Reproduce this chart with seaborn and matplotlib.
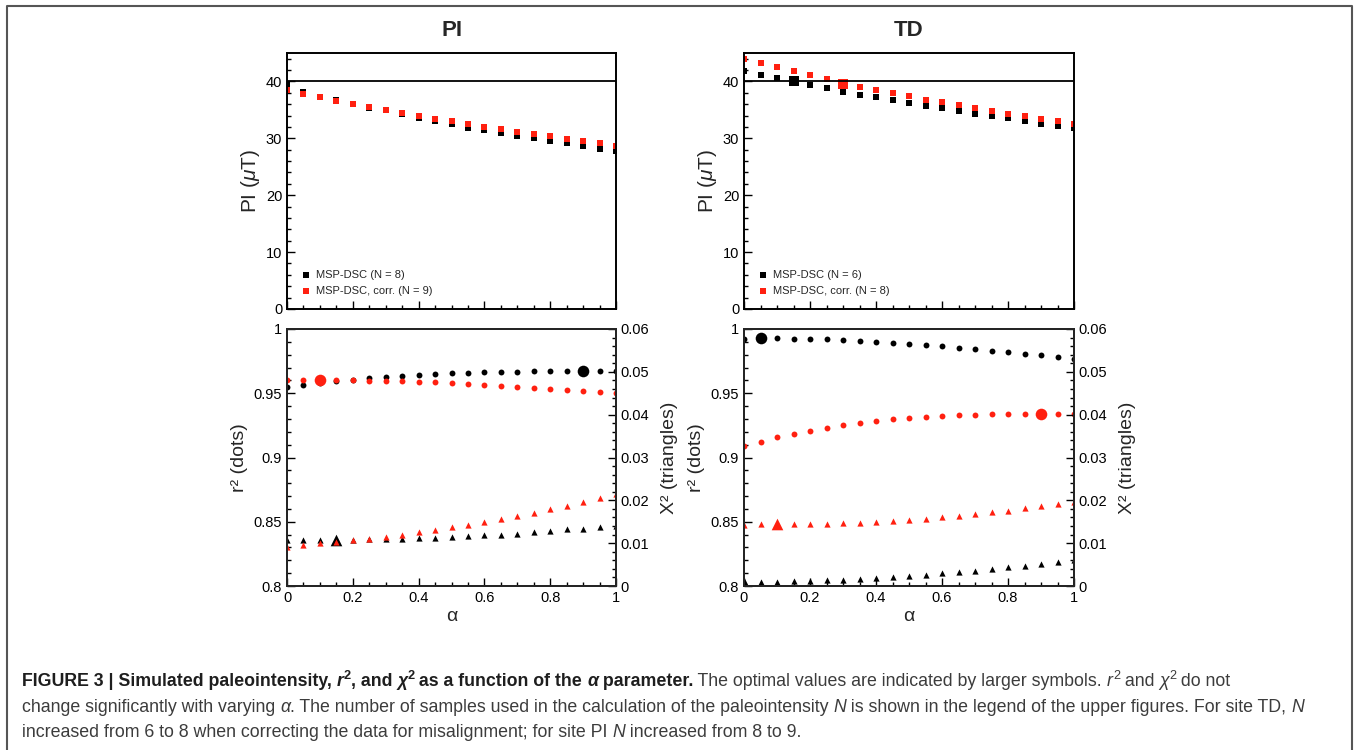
import matplotlib
matplotlib.use('Agg')
import pandas as pd
import matplotlib.pyplot as plt
import seaborn as sns
from matplotlib.ticker import MultipleLocator, FuncFormatter
from matplotlib.lines import Line2D

# data
alpha = [0.0, 0.05, 0.1, 0.15, 0.2, 0.25, 0.3, 0.35, 0.4, 0.45, 0.5,
         0.55, 0.6, 0.65, 0.7, 0.75, 0.8, 0.85, 0.9, 0.95, 1.0]

# PI (uT), site PI
pi_msp = [39.4, 38.2, 37.3, 36.7, 36.0, 35.4, 34.9, 34.2, 33.6, 33.0, 32.5,
          31.9, 31.4, 30.9, 30.4, 30.0, 29.5, 29.1, 28.7, 28.2, 27.8]
pi_corr = [38.5, 37.8, 37.2, 36.6, 36.0, 35.5, 34.9, 34.4, 33.9, 33.4, 33.0,
           32.5, 32.0, 31.6, 31.1, 30.7, 30.4, 29.9, 29.6, 29.2, 28.7]
# PI (uT), site TD
td_msp = [41.9, 41.2, 40.6, 40.0, 39.4, 38.8, 38.2, 37.6, 37.2, 36.7, 36.2,
          35.7, 35.3, 34.8, 34.3, 33.9, 33.5, 33.0, 32.6, 32.2, 31.8]
td_corr = [44.0, 43.2, 42.5, 41.8, 41.1, 40.4, 39.6, 39.1, 38.5, 37.9, 37.4,
           36.8, 36.3, 35.8, 35.3, 34.8, 34.3, 33.9, 33.4, 33.0, 32.5]

# r2 (dots) and chi2 (triangles), site PI
pi_r2_msp = [0.9546, 0.9562, 0.958, 0.9595, 0.9606, 0.9616, 0.9627, 0.9634, 0.9642, 0.965, 0.9655,
             0.966, 0.9663, 0.9665, 0.9668, 0.967, 0.967, 0.9673, 0.9676, 0.9673, 0.967]
pi_r2_corr = [0.9603, 0.9603, 0.9603, 0.9603, 0.9601, 0.9598, 0.9595, 0.9593, 0.959, 0.9585, 0.958,
              0.9572, 0.9564, 0.9556, 0.9549, 0.954, 0.9533, 0.9525, 0.9518, 0.951, 0.950]
pi_chi_msp = [0.0107, 0.0108, 0.0108, 0.0108, 0.0108, 0.0109, 0.0109, 0.0110, 0.0111, 0.0112, 0.0114,
              0.0116, 0.0118, 0.0120, 0.0122, 0.0125, 0.0129, 0.0132, 0.0134, 0.0138, 0.0140]
pi_chi_corr = [0.0090, 0.0095, 0.0100, 0.0103, 0.0107, 0.0110, 0.0114, 0.0120, 0.0125, 0.0131, 0.0137,
               0.0142, 0.0149, 0.0156, 0.0163, 0.0171, 0.0179, 0.0187, 0.0195, 0.0205, 0.0214]

# r2 (dots) and chi2 (triangles), site TD
td_r2_msp = [0.9925, 0.9927, 0.9927, 0.9925, 0.9922, 0.992, 0.9914, 0.9909, 0.9901, 0.9894, 0.9886,
             0.9878, 0.9868, 0.9855, 0.9844, 0.9831, 0.9821, 0.9808, 0.9795, 0.9782, 0.9766]
td_r2_corr = [0.909, 0.9121, 0.9157, 0.9183, 0.9209, 0.923, 0.925, 0.9268, 0.9284, 0.9297, 0.9307,
              0.9318, 0.9323, 0.9328, 0.9333, 0.9336, 0.9339, 0.9341, 0.9341, 0.9341, 0.9339]
td_chi_msp = [0.0006, 0.0010, 0.0010, 0.0011, 0.0011, 0.0013, 0.0015, 0.0017, 0.0019, 0.0021, 0.0023,
              0.0026, 0.0030, 0.0033, 0.0036, 0.0040, 0.0044, 0.0047, 0.0051, 0.0055, 0.0060]
td_chi_corr = [0.0142, 0.0144, 0.0144, 0.0144, 0.0144, 0.0145, 0.0146, 0.0148, 0.0149, 0.0151, 0.0153,
               0.0156, 0.0160, 0.0163, 0.0167, 0.0172, 0.0176, 0.0181, 0.0187, 0.0192, 0.0197]

# optimal alpha (larger symbols), None = not shown
pi_best = {'msp': None, 'corr': None, 'r2_msp': 0.9, 'r2_corr': 0.1, 'chi_msp': 0.15, 'chi_corr': None}
td_best = {'msp': 0.15, 'corr': 0.3, 'r2_msp': 0.05, 'r2_corr': 0.9, 'chi_msp': 0.0, 'chi_corr': 0.1}

n_pi = (8, 9)
n_td = (6, 8)

RED = '#ff2010'
W, H = 1357, 750

sns.set_style('white')
plt.rcParams['font.family'] = ['Liberation Sans', 'DejaVu Sans']
plt.rcParams['mathtext.fontset'] = 'custom'
plt.rcParams['mathtext.rm'] = 'Liberation Sans'
plt.rcParams['mathtext.it'] = 'Liberation Sans:italic'

fig = plt.figure(figsize=(W / 100, H / 100), dpi=100)


def px_axes(x0, y0, x1, y1):
    return fig.add_axes([x0 / W, 1 - y1 / H, (x1 - x0) / W, (y1 - y0) / H])


def fmt(v, pos):
    return '%g' % round(v, 4)


def dots(ax, y, marker, color, s, best, big, label=None):
    df = pd.DataFrame({'alpha': alpha, 'y': y})
    sns.scatterplot(data=df, x='alpha', y='y', ax=ax, marker=marker, color=color,
                    s=s, linewidth=0, label=label, legend=False)
    if best is not None:
        sel = df[(df['alpha'] - best).abs() < 1e-9]
        sns.scatterplot(data=sel, x='alpha', y='y', ax=ax, marker=marker, color=color,
                        s=big, linewidth=0, legend=False)


def frame(ax):
    for sp in ax.spines.values():
        sp.set_linewidth(1.4)
        sp.set_color('black')
    ax.set_xlim(0, 1)
    ax.xaxis.set_major_locator(MultipleLocator(0.2))
    ax.xaxis.set_minor_locator(MultipleLocator(0.05))
    ax.tick_params(which='both', direction='in', bottom=True, left=True, top=False, right=False,
                   colors='black', labelsize=10.5, width=1.0)
    ax.tick_params(which='major', length=6)
    ax.tick_params(which='minor', length=3)
    ax.set_xlabel('')
    ax.set_ylabel('')


def top_panel(ax, msp, corr, best, n):
    dots(ax, msp, 's', 'black', 16, best['msp'], 55, 'MSP-DSC (N = %d)' % n[0])
    dots(ax, corr, 's', RED, 16, best['corr'], 55, 'MSP-DSC, corr. (N = %d)' % n[1])
    ax.axhline(40, color='black', lw=1.3)
    frame(ax)
    ax.set_ylim(0, 45)
    ax.yaxis.set_major_locator(MultipleLocator(10))
    ax.yaxis.set_minor_locator(MultipleLocator(2))
    ax.yaxis.set_major_formatter(FuncFormatter(fmt))
    ax.tick_params(labelbottom=False)
    ax.set_ylabel(r'PI ($\mu$T)', fontsize=15, labelpad=3)
    ax.legend(loc='lower left', frameon=False, fontsize=8, handletextpad=0.4,
              handlelength=1.0, labelspacing=0.55, borderaxespad=0.8, markerscale=1.0)


def bottom_panel(ax, r2_msp, r2_corr, chi_msp, chi_corr, best):
    ax2 = ax.twinx()
    dots(ax, r2_msp, 'o', 'black', 18, best['r2_msp'], 70)
    dots(ax, r2_corr, 'o', RED, 18, best['r2_corr'], 70)
    dots(ax2, chi_msp, '^', 'black', 20, best['chi_msp'], 70)
    dots(ax2, chi_corr, '^', RED, 20, best['chi_corr'], 70)
    frame(ax)
    ax.set_ylim(0.8, 1.0)
    ax.yaxis.set_major_locator(MultipleLocator(0.05))
    ax.yaxis.set_minor_locator(MultipleLocator(0.01))
    ax.yaxis.set_major_formatter(FuncFormatter(fmt))
    ax.xaxis.set_major_formatter(FuncFormatter(fmt))
    ax.set_xlabel('α', fontsize=14, labelpad=2)
    ax.set_ylabel('r² (dots)', fontsize=14, labelpad=4)
    ax2.set_ylim(0, 0.06)
    ax2.yaxis.set_major_locator(MultipleLocator(0.01))
    ax2.yaxis.set_minor_locator(MultipleLocator(0.002))
    ax2.yaxis.set_major_formatter(FuncFormatter(fmt))
    ax2.tick_params(which='both', direction='in', right=True, left=False, labelsize=10.5,
                    colors='black', width=1.0)
    ax2.tick_params(which='major', length=6)
    ax2.tick_params(which='minor', length=3)
    for sp in ax2.spines.values():
        sp.set_linewidth(1.4)
    ax2.set_xlabel('')
    ax2.set_ylabel('Χ² (triangles)', fontsize=14, labelpad=8)


ax_pi_top = px_axes(287, 53, 616, 309)
ax_pi_bot = px_axes(287, 329, 616, 586)
ax_td_top = px_axes(744, 53, 1074, 309)
ax_td_bot = px_axes(744, 329, 1074, 586)

top_panel(ax_pi_top, pi_msp, pi_corr, pi_best, n_pi)
top_panel(ax_td_top, td_msp, td_corr, td_best, n_td)
bottom_panel(ax_pi_bot, pi_r2_msp, pi_r2_corr, pi_chi_msp, pi_chi_corr, pi_best)
bottom_panel(ax_td_bot, td_r2_msp, td_r2_corr, td_chi_msp, td_chi_corr, td_best)

fig.text(452 / W, 1 - 31 / H, 'PI', fontsize=16, fontweight='bold', ha='center', va='center')
fig.text(909 / W, 1 - 31 / H, 'TD', fontsize=16, fontweight='bold', ha='center', va='center')

# outer frame (left, top, right)
fc = '#555555'
fig.add_artist(Line2D([7 / W, 7 / W, 1352 / W, 1352 / W], [0, 1 - 6 / H, 1 - 6 / H, 0],
                      color=fc, lw=1.5, transform=fig.transFigure))

# caption, drawn piece by piece
renderer = fig.canvas.get_renderer()
CAP = 12.8
DARK = '#1e1e1e'
GREY = '#3c3c3c'


def seg_width(txt, **kw):
    a = fig.text(0, 0, '|' + txt + '|', **kw)
    b = fig.text(0, 0, '||', **kw)
    w = a.get_window_extent(renderer).width - b.get_window_extent(renderer).width
    a.remove()
    b.remove()
    return w


def caption_line(parts, y_px, x_px=22):
    x = x_px
    for txt, style in parts:
        bold = 'b' in style
        ital = 'i' in style
        sup = 's' in style
        kw = dict(fontsize=CAP * (0.72 if sup else 1.0),
                  fontweight='bold' if bold else 'normal',
                  fontstyle='italic' if ital else 'normal',
                  color=DARK if bold else GREY)
        rise = 7 if sup else 0
        fig.text(x / W, 1 - (y_px - rise) / H, txt, ha='left', va='baseline', **kw)
        x += seg_width(txt, **kw)


caption_line([
    ('FIGURE 3 | Simulated paleointensity, ', 'b'), ('r', 'bi'), ('2', 'bs'),
    (', and ', 'b'), ('χ', 'bi'), ('2', 'bs'), (' as a function of the ', 'b'),
    ('α', 'bi'), (' parameter.', 'b'),
    (' The optimal values are indicated by larger symbols. ', ''), ('r', 'i'), ('2', 's'),
    (' and ', ''), ('χ', 'i'), ('2', 's'), (' do not', ''),
], 686)
caption_line([
    ('change significantly with varying ', ''), ('α', 'i'),
    ('. The number of samples used in the calculation of the paleointensity ', ''), ('N', 'i'),
    (' is shown in the legend of the upper figures. For site TD, ', ''), ('N', 'i'),
], 712)
caption_line([
    ('increased from 6 to 8 when correcting the data for misalignment; for site PI ', ''), ('N', 'i'),
    (' increased from 8 to 9.', ''),
], 737)

fig.savefig('out.png', dpi=100)
